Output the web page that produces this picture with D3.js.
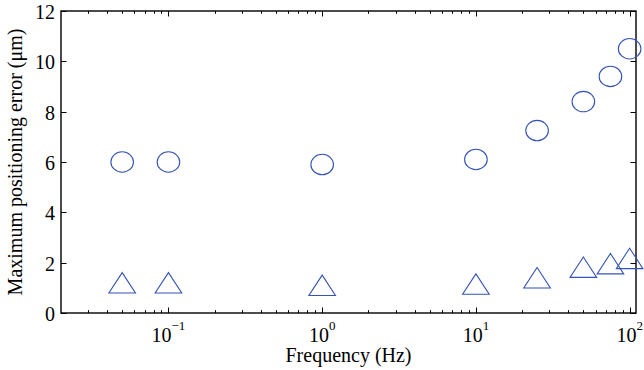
<!DOCTYPE html>
<html>
<head>
<meta charset="utf-8">
<script src="https://cdn.jsdelivr.net/npm/d3@7/dist/d3.min.js"></script>
<style>
  html, body { margin: 0; padding: 0; background: #fff; }
  svg { display: block; }
</style>
</head>
<body>
<svg id="chart" width="644" height="370"></svg>
<script>
// ---- data ----
const frequencies = [0.05, 0.1, 1, 10, 25, 50, 75, 100];
const circleErrors = [6.0, 6.0, 5.9, 6.1, 7.25, 8.4, 9.4, 10.5];
const triangleErrors = [1.2, 1.2, 1.1, 1.15, 1.4, 1.82, 1.96, 2.17];
const xMajorTicks = [0.1, 1, 10, 100];
const xTickExponents = ["\u22121", "0", "1", "2"];
const yTicks = [0, 2, 4, 6, 8, 10, 12];
const xLabel = "Frequency (Hz)";
const yLabel = "Maximum positioning error (\u03bcm)";

// ---- layout ----
const W = 644, H = 370;
const L = 61, R = 636, T = 11, B = 313;
const blue = "#3553b5";
const FONT = "'Liberation Serif', 'Times New Roman', Times, 'DejaVu Serif', serif";

const svg = d3.select("#chart");

const x = d3.scaleLog().domain([0.02, 110]).range([L, R]);
const y = d3.scaleLinear().domain([0, 12]).range([B, T]);

// minor ticks
const minorTicks = [];
[0.01, 0.1, 1, 10].forEach(d => {
  for (let k = 2; k <= 9; k++) {
    const v = d * k;
    if (v > 0.02 && v < 110) minorTicks.push(v);
  }
});

const g = svg.append("g").attr("font-family", FONT).style("font-family", FONT);

// tick marks (inward, bottom + top for x; left + right for y)
const majorLen = 5.5, minorLen = 2.8;
const tickG = g.append("g").attr("stroke", "#000").attr("stroke-width", 1);
xMajorTicks.forEach(v => {
  const px = Math.round(x(v)) + 0.5;
  tickG.append("line").attr("x1", px).attr("x2", px).attr("y1", B).attr("y2", B - majorLen);
  tickG.append("line").attr("x1", px).attr("x2", px).attr("y1", T).attr("y2", T + majorLen);
});
minorTicks.forEach(v => {
  const px = Math.round(x(v)) + 0.5;
  tickG.append("line").attr("x1", px).attr("x2", px).attr("y1", B).attr("y2", B - minorLen);
  tickG.append("line").attr("x1", px).attr("x2", px).attr("y1", T).attr("y2", T + minorLen);
});
yTicks.forEach(v => {
  const py = Math.round(y(v)) + 0.5;
  tickG.append("line").attr("x1", L).attr("x2", L + majorLen).attr("y1", py).attr("y2", py);
  tickG.append("line").attr("x1", R).attr("x2", R - majorLen).attr("y1", py).attr("y2", py);
});

// box
g.append("rect")
  .attr("x", L).attr("y", T).attr("width", R - L).attr("height", B - T)
  .attr("fill", "none").attr("stroke", "#000").attr("stroke-width", 1.4);

// y tick labels
g.append("g").selectAll("text").data(yTicks).join("text")
  .attr("x", L - 6).attr("y", d => y(d)).attr("dy", "0.4em")
  .attr("text-anchor", "end").attr("font-size", 20).style("font-family", FONT)
  .text(d => d);

// x tick labels 10^n
const xl = g.append("g").selectAll("text").data(xMajorTicks).join("text")
  .attr("x", d => x(d)).attr("y", 341.5)
  .attr("text-anchor", "middle").attr("font-size", 20).style("font-family", FONT);
xl.append("tspan").text("10");
xl.append("tspan").attr("dy", -11.5).attr("font-size", 13).text((d, i) => xTickExponents[i]);

// axis labels
g.append("text").attr("x", (L + R) / 2).attr("y", 361.5)
  .attr("text-anchor", "middle").attr("font-size", 20).style("font-family", FONT).text(xLabel);
g.append("text").attr("transform", `translate(22,${(T + B) / 2}) rotate(-90)`)
  .attr("text-anchor", "middle").attr("font-size", 20).style("font-family", FONT).text(yLabel);

// markers
const rx = 11.3, ry = 10.2;
g.append("g").selectAll("ellipse").data(frequencies).join("ellipse")
  .attr("cx", d => x(d)).attr("cy", (d, i) => y(circleErrors[i]))
  .attr("rx", rx).attr("ry", ry)
  .attr("fill", "none").attr("stroke", blue).attr("stroke-width", 1.1);

const tw = 13.3, th = 10.2;
g.append("g").selectAll("path").data(frequencies).join("path")
  .attr("d", (d, i) => {
    const cx = x(d), cy = y(triangleErrors[i]);
    return `M${cx},${cy - th}L${cx + tw},${cy + th}L${cx - tw},${cy + th}Z`;
  })
  .attr("fill", "none").attr("stroke", blue).attr("stroke-width", 1.1)
  .attr("stroke-linejoin", "miter");
</script>
</body>
</html>
